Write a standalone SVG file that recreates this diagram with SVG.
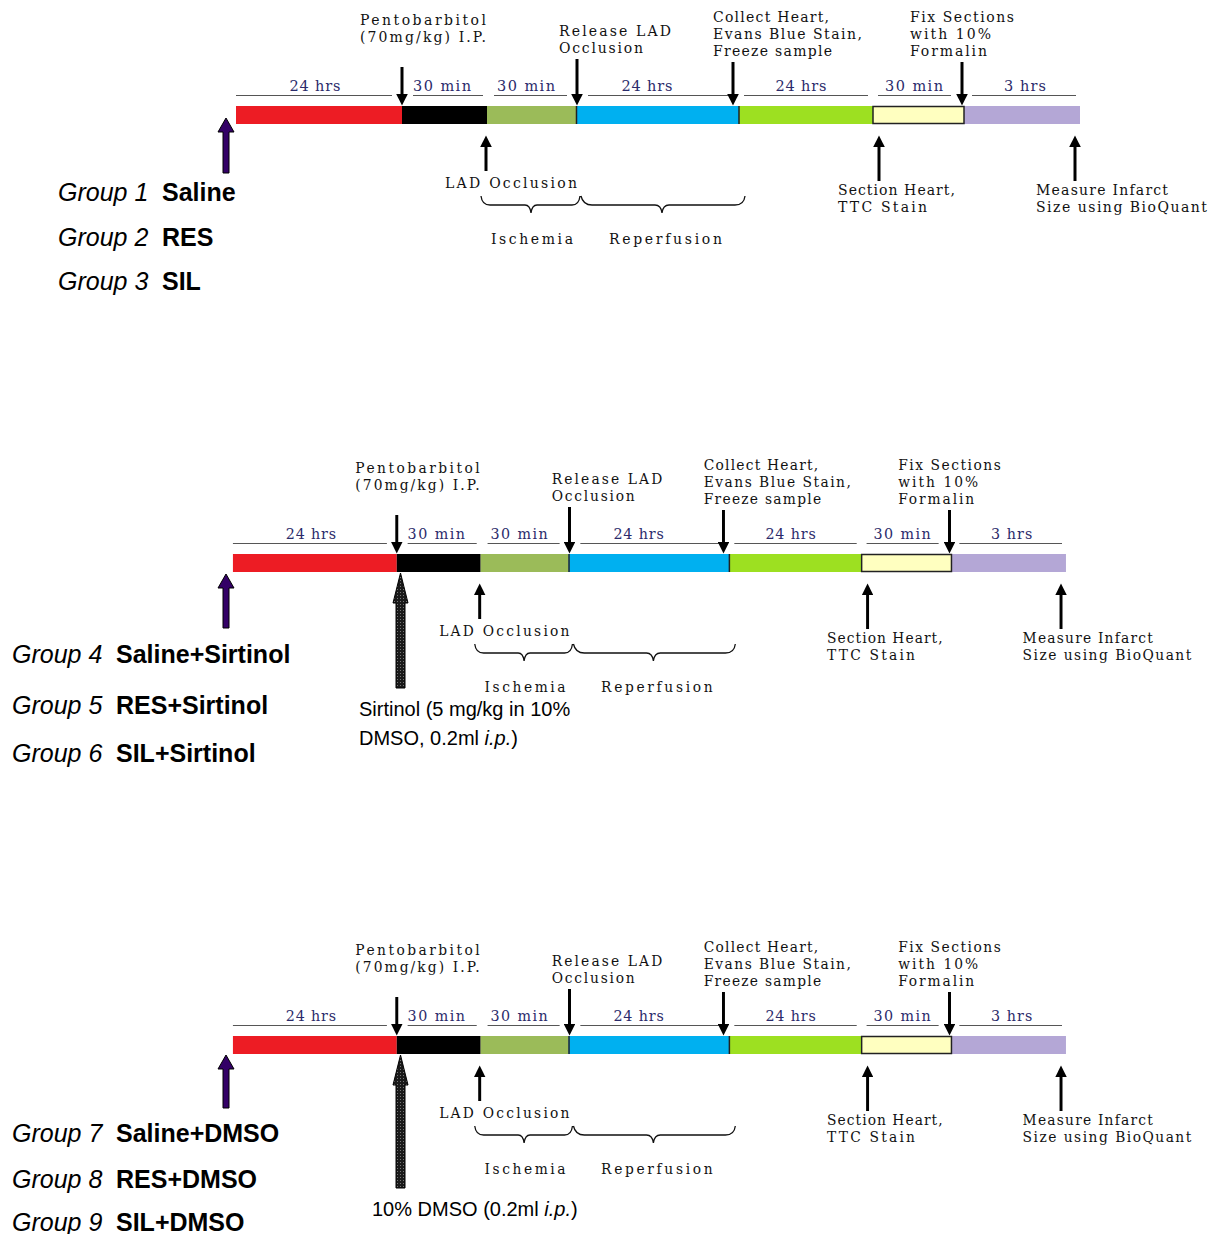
<svg xmlns="http://www.w3.org/2000/svg" width="1213" height="1234" viewBox="0 0 1213 1234">
<style>
.lbl{font-family:"DejaVu Serif","Liberation Serif",serif;font-size:14px;fill:#111}
.dl{font-family:"DejaVu Serif","Liberation Serif",serif;font-size:14.5px;fill:#2b2b6b;text-anchor:middle}
.grp{font-family:"Liberation Sans",Arial,sans-serif;font-size:25px;fill:#000}
.note{font-family:"Liberation Sans",Arial,sans-serif;font-size:20px;fill:#000}
.dim{stroke:#555;stroke-width:1;fill:none}
.arr{stroke:#000;stroke-width:3;fill:none}
.brace{stroke:#111;stroke-width:1.3;fill:none}
.sep{stroke:#222;stroke-width:1.5}
.purple{fill:#330066;stroke:#000;stroke-width:1}
.hatch{fill:url(#dots);stroke:#000;stroke-width:1}
</style>
<defs>
<marker id="ah" markerUnits="userSpaceOnUse" markerWidth="12" markerHeight="12" viewBox="0 0 10 10" refX="2" refY="5" orient="auto">
<path d="M0,0L10,5L0,10z" fill="#000"/>
</marker>
<pattern id="dots" patternUnits="userSpaceOnUse" width="3" height="3">
<rect width="3" height="3" fill="#1a1a1a"/>
<rect x="1" y="1" width="1" height="1" fill="#777"/>
</pattern>
</defs>

<!-- ================= PANEL 1 ================= -->
<g id="panel1">
<g id="p1-bar">
<rect x="236" y="106" width="166" height="18" fill="#ed1c24"/>
<rect x="402" y="106" width="85" height="18" fill="#000"/>
<rect x="487" y="106" width="89" height="18" fill="#9bbb59"/>
<rect x="576" y="106" width="163" height="18" fill="#00b0f0"/>
<rect x="739" y="106" width="134" height="18" fill="#9de021"/>
<rect x="964" y="106" width="116" height="18" fill="#b4a7d6"/>
<rect x="873" y="106.5" width="91" height="17" fill="#ffffc0" stroke="#222" stroke-width="1.5"/>
<path class="sep" d="M576.5 106v18M739 106v18"/>
</g>
<g id="p1-dims">
<path class="dim" d="M236 95.5H392M413 95.5H483M494 95.5H567M588 95.5H729M744 95.5H868M878 95.5H951M972 95.5H1076"/>
<text class="dl" x="315" y="91" textLength="51" lengthAdjust="spacing">24 hrs</text>
<text class="dl" x="442" y="91" textLength="58" lengthAdjust="spacing">30 min</text>
<text class="dl" x="526" y="91" textLength="58" lengthAdjust="spacing">30 min</text>
<text class="dl" x="647" y="91" textLength="51" lengthAdjust="spacing">24 hrs</text>
<text class="dl" x="801" y="91" textLength="51" lengthAdjust="spacing">24 hrs</text>
<text class="dl" x="914" y="91" textLength="58" lengthAdjust="spacing">30 min</text>
<text class="dl" x="1025" y="91" textLength="42" lengthAdjust="spacing">3 hrs</text>
</g>
<g id="p1-pento"><text class="lbl" x="360" y="25" textLength="126" lengthAdjust="spacing">Pentobarbitol</text><text class="lbl" x="360" y="42" textLength="126" lengthAdjust="spacing">(70mg/kg) I.P.</text></g>
<g id="p1-release"><text class="lbl" x="559" y="36" textLength="112" lengthAdjust="spacing">Release LAD</text><text class="lbl" x="559" y="53" textLength="84" lengthAdjust="spacing">Occlusion</text></g>
<g id="p1-collect"><text class="lbl" x="713" y="22" textLength="116" lengthAdjust="spacing">Collect Heart,</text><text class="lbl" x="713" y="39" textLength="149" lengthAdjust="spacing">Evans Blue Stain,</text><text class="lbl" x="713" y="56" textLength="119" lengthAdjust="spacing">Freeze sample</text></g>
<g id="p1-fix"><text class="lbl" x="910" y="22" textLength="104" lengthAdjust="spacing">Fix Sections</text><text class="lbl" x="910" y="39" textLength="81" lengthAdjust="spacing">with 10%</text><text class="lbl" x="910" y="56" textLength="77" lengthAdjust="spacing">Formalin</text></g>
<g id="p1-lad"><text class="lbl" x="445" y="188" textLength="132" lengthAdjust="spacing">LAD Occlusion</text></g>
<g id="p1-isch"><text class="lbl" x="491" y="244" textLength="82" lengthAdjust="spacing">Ischemia</text></g>
<g id="p1-reperf"><text class="lbl" x="609" y="244" textLength="113" lengthAdjust="spacing">Reperfusion</text></g>
<g id="p1-section"><text class="lbl" x="838" y="195" textLength="117" lengthAdjust="spacing">Section Heart,</text><text class="lbl" x="838" y="212" textLength="89" lengthAdjust="spacing">TTC Stain</text></g>
<g id="p1-measure"><text class="lbl" x="1036" y="195" textLength="132" lengthAdjust="spacing">Measure Infarct</text><text class="lbl" x="1036" y="212" textLength="171" lengthAdjust="spacing">Size using BioQuant</text></g>
<g id="p1-connectors">
<line class="arr" x1="402" y1="67" x2="402" y2="96" marker-end="url(#ah)"/>
<line class="arr" x1="577" y1="59" x2="577" y2="96" marker-end="url(#ah)"/>
<line class="arr" x1="733" y1="62" x2="733" y2="96" marker-end="url(#ah)"/>
<line class="arr" x1="962" y1="62" x2="962" y2="96" marker-end="url(#ah)" stroke-width="4"/>
<line class="arr" x1="486" y1="171" x2="486" y2="145" marker-end="url(#ah)"/>
<line class="arr" x1="879" y1="181" x2="879" y2="145" marker-end="url(#ah)"/>
<line class="arr" x1="1075" y1="181" x2="1075" y2="145" marker-end="url(#ah)"/>
<path class="brace" d="M481 196Q482 205 490 205L525 205Q530 205 531 213Q532 205 537 205L572 205Q579 205 580 196M581 196Q583 205 592 205L655 205Q661 205 662 213Q663 205 669 205L735 205Q744 205 745 196"/>
</g>
</g>

<!-- ================= PANEL 2 ================= -->
<g id="panel2" transform="translate(0,448) scale(0.987,1)">
<g id="p2-bar">
<rect x="236" y="106" width="166" height="18" fill="#ed1c24"/>
<rect x="402" y="106" width="85" height="18" fill="#000"/>
<rect x="487" y="106" width="89" height="18" fill="#9bbb59"/>
<rect x="576" y="106" width="163" height="18" fill="#00b0f0"/>
<rect x="739" y="106" width="134" height="18" fill="#9de021"/>
<rect x="964" y="106" width="116" height="18" fill="#b4a7d6"/>
<rect x="873" y="106.5" width="91" height="17" fill="#ffffc0" stroke="#222" stroke-width="1.5"/>
<path class="sep" d="M576.5 106v18M739 106v18"/>
</g>
<g id="p2-dims">
<path class="dim" d="M236 95.5H392M413 95.5H483M494 95.5H567M588 95.5H729M744 95.5H868M878 95.5H951M972 95.5H1076"/>
<text class="dl" x="315" y="91" textLength="51" lengthAdjust="spacing">24 hrs</text>
<text class="dl" x="442" y="91" textLength="58" lengthAdjust="spacing">30 min</text>
<text class="dl" x="526" y="91" textLength="58" lengthAdjust="spacing">30 min</text>
<text class="dl" x="647" y="91" textLength="51" lengthAdjust="spacing">24 hrs</text>
<text class="dl" x="801" y="91" textLength="51" lengthAdjust="spacing">24 hrs</text>
<text class="dl" x="914" y="91" textLength="58" lengthAdjust="spacing">30 min</text>
<text class="dl" x="1025" y="91" textLength="42" lengthAdjust="spacing">3 hrs</text>
</g>
<g id="p2-pento"><text class="lbl" x="360" y="25" textLength="126" lengthAdjust="spacing">Pentobarbitol</text><text class="lbl" x="360" y="42" textLength="126" lengthAdjust="spacing">(70mg/kg) I.P.</text></g>
<g id="p2-release"><text class="lbl" x="559" y="36" textLength="112" lengthAdjust="spacing">Release LAD</text><text class="lbl" x="559" y="53" textLength="84" lengthAdjust="spacing">Occlusion</text></g>
<g id="p2-collect"><text class="lbl" x="713" y="22" textLength="116" lengthAdjust="spacing">Collect Heart,</text><text class="lbl" x="713" y="39" textLength="149" lengthAdjust="spacing">Evans Blue Stain,</text><text class="lbl" x="713" y="56" textLength="119" lengthAdjust="spacing">Freeze sample</text></g>
<g id="p2-fix"><text class="lbl" x="910" y="22" textLength="104" lengthAdjust="spacing">Fix Sections</text><text class="lbl" x="910" y="39" textLength="81" lengthAdjust="spacing">with 10%</text><text class="lbl" x="910" y="56" textLength="77" lengthAdjust="spacing">Formalin</text></g>
<g id="p2-lad"><text class="lbl" x="445" y="188" textLength="132" lengthAdjust="spacing">LAD Occlusion</text></g>
<g id="p2-isch"><text class="lbl" x="491" y="244" textLength="82" lengthAdjust="spacing">Ischemia</text></g>
<g id="p2-reperf"><text class="lbl" x="609" y="244" textLength="113" lengthAdjust="spacing">Reperfusion</text></g>
<g id="p2-section"><text class="lbl" x="838" y="195" textLength="117" lengthAdjust="spacing">Section Heart,</text><text class="lbl" x="838" y="212" textLength="89" lengthAdjust="spacing">TTC Stain</text></g>
<g id="p2-measure"><text class="lbl" x="1036" y="195" textLength="132" lengthAdjust="spacing">Measure Infarct</text><text class="lbl" x="1036" y="212" textLength="171" lengthAdjust="spacing">Size using BioQuant</text></g>
<g id="p2-connectors">
<line class="arr" x1="402" y1="67" x2="402" y2="96" marker-end="url(#ah)"/>
<line class="arr" x1="577" y1="59" x2="577" y2="96" marker-end="url(#ah)"/>
<line class="arr" x1="733" y1="62" x2="733" y2="96" marker-end="url(#ah)"/>
<line class="arr" x1="962" y1="62" x2="962" y2="96" marker-end="url(#ah)" stroke-width="4"/>
<line class="arr" x1="486" y1="171" x2="486" y2="145" marker-end="url(#ah)"/>
<line class="arr" x1="879" y1="181" x2="879" y2="145" marker-end="url(#ah)"/>
<line class="arr" x1="1075" y1="181" x2="1075" y2="145" marker-end="url(#ah)"/>
<path class="brace" d="M481 196Q482 205 490 205L525 205Q530 205 531 213Q532 205 537 205L572 205Q579 205 580 196M581 196Q583 205 592 205L655 205Q661 205 662 213Q663 205 669 205L735 205Q744 205 745 196"/>
</g>
</g>

<!-- ================= PANEL 3 ================= -->
<g id="panel3" transform="translate(0,930) scale(0.987,1)">
<g id="p3-bar">
<rect x="236" y="106" width="166" height="18" fill="#ed1c24"/>
<rect x="402" y="106" width="85" height="18" fill="#000"/>
<rect x="487" y="106" width="89" height="18" fill="#9bbb59"/>
<rect x="576" y="106" width="163" height="18" fill="#00b0f0"/>
<rect x="739" y="106" width="134" height="18" fill="#9de021"/>
<rect x="964" y="106" width="116" height="18" fill="#b4a7d6"/>
<rect x="873" y="106.5" width="91" height="17" fill="#ffffc0" stroke="#222" stroke-width="1.5"/>
<path class="sep" d="M576.5 106v18M739 106v18"/>
</g>
<g id="p3-dims">
<path class="dim" d="M236 95.5H392M413 95.5H483M494 95.5H567M588 95.5H729M744 95.5H868M878 95.5H951M972 95.5H1076"/>
<text class="dl" x="315" y="91" textLength="51" lengthAdjust="spacing">24 hrs</text>
<text class="dl" x="442" y="91" textLength="58" lengthAdjust="spacing">30 min</text>
<text class="dl" x="526" y="91" textLength="58" lengthAdjust="spacing">30 min</text>
<text class="dl" x="647" y="91" textLength="51" lengthAdjust="spacing">24 hrs</text>
<text class="dl" x="801" y="91" textLength="51" lengthAdjust="spacing">24 hrs</text>
<text class="dl" x="914" y="91" textLength="58" lengthAdjust="spacing">30 min</text>
<text class="dl" x="1025" y="91" textLength="42" lengthAdjust="spacing">3 hrs</text>
</g>
<g id="p3-pento"><text class="lbl" x="360" y="25" textLength="126" lengthAdjust="spacing">Pentobarbitol</text><text class="lbl" x="360" y="42" textLength="126" lengthAdjust="spacing">(70mg/kg) I.P.</text></g>
<g id="p3-release"><text class="lbl" x="559" y="36" textLength="112" lengthAdjust="spacing">Release LAD</text><text class="lbl" x="559" y="53" textLength="84" lengthAdjust="spacing">Occlusion</text></g>
<g id="p3-collect"><text class="lbl" x="713" y="22" textLength="116" lengthAdjust="spacing">Collect Heart,</text><text class="lbl" x="713" y="39" textLength="149" lengthAdjust="spacing">Evans Blue Stain,</text><text class="lbl" x="713" y="56" textLength="119" lengthAdjust="spacing">Freeze sample</text></g>
<g id="p3-fix"><text class="lbl" x="910" y="22" textLength="104" lengthAdjust="spacing">Fix Sections</text><text class="lbl" x="910" y="39" textLength="81" lengthAdjust="spacing">with 10%</text><text class="lbl" x="910" y="56" textLength="77" lengthAdjust="spacing">Formalin</text></g>
<g id="p3-lad"><text class="lbl" x="445" y="188" textLength="132" lengthAdjust="spacing">LAD Occlusion</text></g>
<g id="p3-isch"><text class="lbl" x="491" y="244" textLength="82" lengthAdjust="spacing">Ischemia</text></g>
<g id="p3-reperf"><text class="lbl" x="609" y="244" textLength="113" lengthAdjust="spacing">Reperfusion</text></g>
<g id="p3-section"><text class="lbl" x="838" y="195" textLength="117" lengthAdjust="spacing">Section Heart,</text><text class="lbl" x="838" y="212" textLength="89" lengthAdjust="spacing">TTC Stain</text></g>
<g id="p3-measure"><text class="lbl" x="1036" y="195" textLength="132" lengthAdjust="spacing">Measure Infarct</text><text class="lbl" x="1036" y="212" textLength="171" lengthAdjust="spacing">Size using BioQuant</text></g>
<g id="p3-connectors">
<line class="arr" x1="402" y1="67" x2="402" y2="96" marker-end="url(#ah)"/>
<line class="arr" x1="577" y1="59" x2="577" y2="96" marker-end="url(#ah)"/>
<line class="arr" x1="733" y1="62" x2="733" y2="96" marker-end="url(#ah)"/>
<line class="arr" x1="962" y1="62" x2="962" y2="96" marker-end="url(#ah)" stroke-width="4"/>
<line class="arr" x1="486" y1="171" x2="486" y2="145" marker-end="url(#ah)"/>
<line class="arr" x1="879" y1="181" x2="879" y2="145" marker-end="url(#ah)"/>
<line class="arr" x1="1075" y1="181" x2="1075" y2="145" marker-end="url(#ah)"/>
<path class="brace" d="M481 196Q482 205 490 205L525 205Q530 205 531 213Q532 205 537 205L572 205Q579 205 580 196M581 196Q583 205 592 205L655 205Q661 205 662 213Q663 205 669 205L735 205Q744 205 745 196"/>
</g>
</g>

<!-- start arrows and treatment arrows -->
<g id="start-arrows">
<path class="purple" d="M226 118L234 132L229 132L229 173L223 173L223 132L218 132Z"/>
<path class="purple" d="M226 574L234 588L229 588L229 628L223 628L223 588L218 588Z"/>
<path class="purple" d="M226 1055L234 1069L229 1069L229 1108L223 1108L223 1069L218 1069Z"/>
</g>
<g id="treatment-arrows">
<path class="hatch" d="M400.5 573L408 603L405 603L405 688L396 688L396 603L393 603Z"/>
<path class="hatch" d="M400.5 1055L408 1085L405 1085L405 1188L396 1188L396 1085L393 1085Z"/>
</g>

<!-- group labels -->
<g id="groups1">
<text class="grp" x="58" y="201"><tspan font-style="italic">Group 1</tspan><tspan x="162" font-weight="bold">Saline</tspan></text>
<text class="grp" x="58" y="246"><tspan font-style="italic">Group 2</tspan><tspan x="162" font-weight="bold">RES</tspan></text>
<text class="grp" x="58" y="290"><tspan font-style="italic">Group 3</tspan><tspan x="162" font-weight="bold">SIL</tspan></text>
</g>
<g id="groups2">
<text class="grp" x="12" y="663"><tspan font-style="italic">Group 4</tspan><tspan x="116" font-weight="bold">Saline+Sirtinol</tspan></text>
<text class="grp" x="12" y="714"><tspan font-style="italic">Group 5</tspan><tspan x="116" font-weight="bold">RES+Sirtinol</tspan></text>
<text class="grp" x="12" y="762"><tspan font-style="italic">Group 6</tspan><tspan x="116" font-weight="bold">SIL+Sirtinol</tspan></text>
</g>
<g id="groups3">
<text class="grp" x="12" y="1142"><tspan font-style="italic">Group 7</tspan><tspan x="116" font-weight="bold">Saline+DMSO</tspan></text>
<text class="grp" x="12" y="1188"><tspan font-style="italic">Group 8</tspan><tspan x="116" font-weight="bold">RES+DMSO</tspan></text>
<text class="grp" x="12" y="1231"><tspan font-style="italic">Group 9</tspan><tspan x="116" font-weight="bold">SIL+DMSO</tspan></text>
</g>
<g id="sirtinol-note">
<text class="note" x="359" y="716">Sirtinol (5 mg/kg in 10%</text>
<text class="note" x="359" y="745">DMSO, 0.2ml <tspan font-style="italic">i.p.</tspan>)</text>
</g>
<g id="dmso-note">
<text class="note" x="372" y="1216">10% DMSO (0.2ml <tspan font-style="italic">i.p.</tspan>)</text>
</g>
</svg>
